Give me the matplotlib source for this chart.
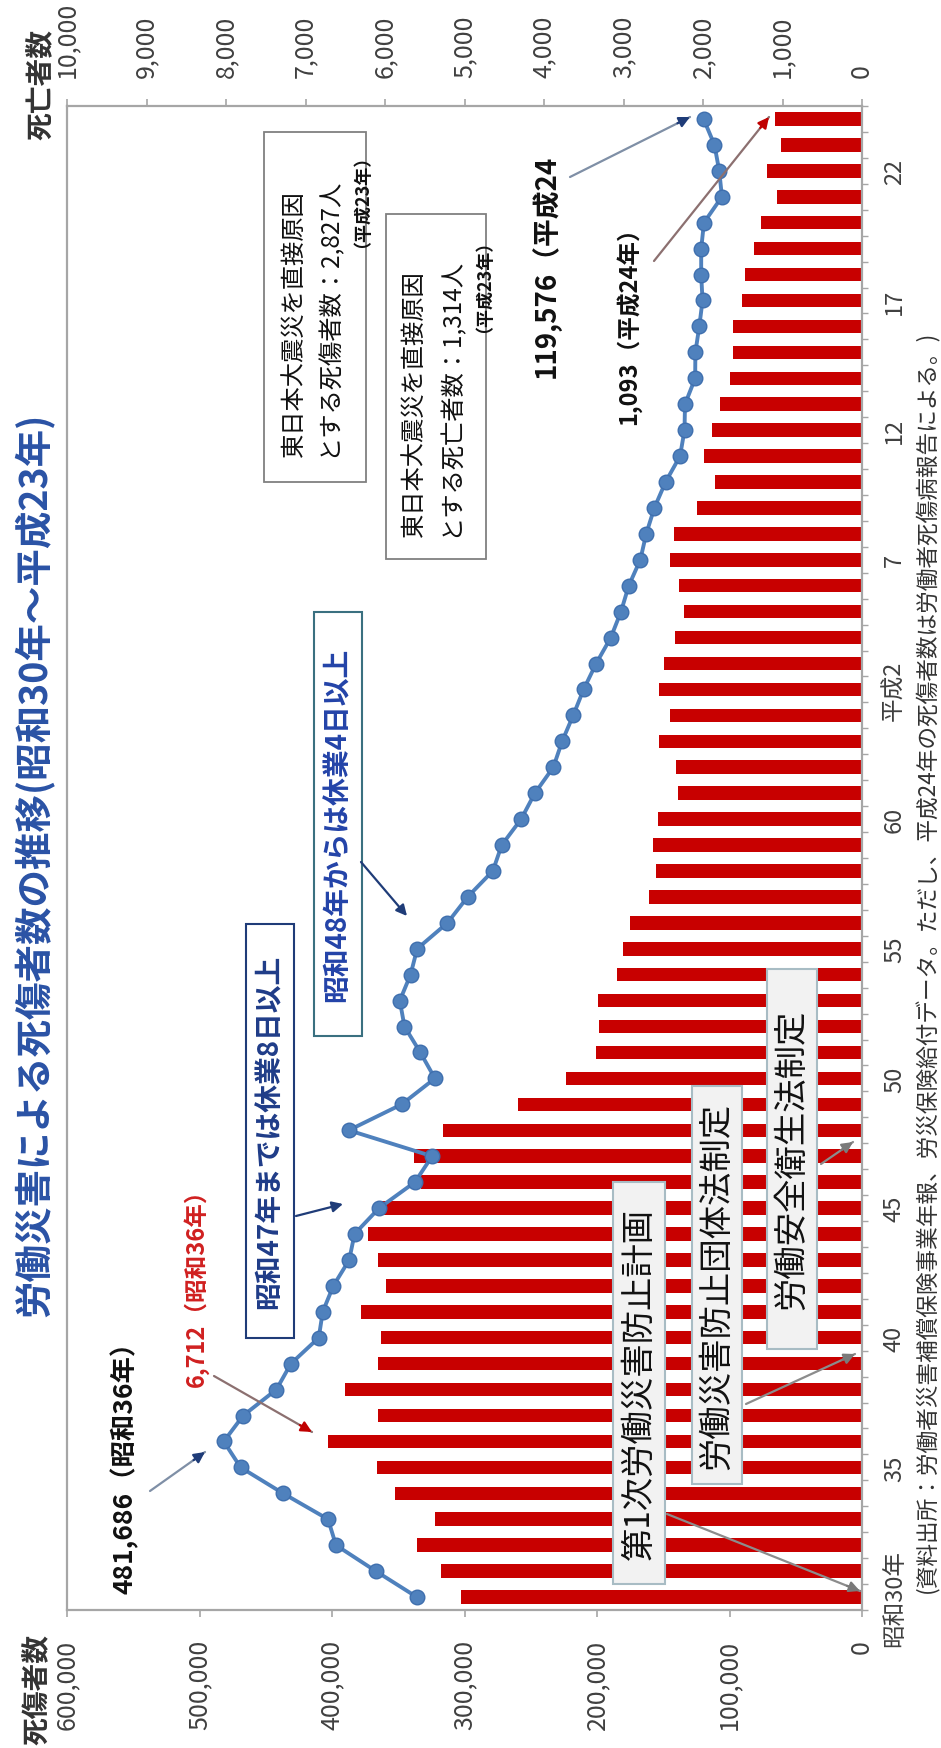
import matplotlib
matplotlib.use("Agg")
import matplotlib.pyplot as plt
import numpy as np
from matplotlib.patches import Rectangle, FancyArrowPatch

plt.rcParams['font.family'] = ['Noto Sans CJK JP', 'DejaVu Sans']

# ---------------- data ----------------
years = list(range(1955, 2013))  # 昭和30年 ... 平成24年
deaths = [5050, 5300, 5600, 5368, 5871, 6095, 6712, 6093, 6506, 6086,
          6046, 6303, 5990, 6088, 6208, 6048, 5552, 5631, 5269, 4330,
          3725, 3345, 3302, 3326, 3077, 3009, 2912, 2674, 2588, 2635,
          2572, 2318, 2342, 2549, 2419, 2550, 2489, 2354, 2245, 2301,
          2414, 2363, 2078, 1844, 1992, 1889, 1790, 1658, 1628, 1620,
          1514, 1472, 1357, 1268, 1075, 1195, 1024, 1093]
cases = [336000, 367000, 397000, 403000, 437000, 469000, 481686, 467000, 442000, 431000,
         410000, 407000, 399000, 387000, 383000, 364444, 337421, 324435, 387342, 347407,
         322322, 333311, 345293, 348826, 340731, 335706, 312844, 297627, 278623, 271884,
         257240, 246891, 232953, 226318, 217964, 210108, 200633, 189589, 181900, 176047,
         167316, 162862, 156726, 148248, 137316, 133948, 133598, 125918, 125750, 122804,
         120354, 121378, 121356, 119291, 105718, 107759, 111349, 119576]
year_label_pos = [0, 5, 10, 15, 20, 25, 30, 35, 40, 45, 50, 55]
year_labels = ['昭和30年', '35', '40', '45', '50', '55', '60', '平成2', '7', '12', '17', '22']
death_ticks = list(range(0, 10001, 1000))
case_ticks = list(range(0, 600001, 100000))

title = '労働災害による死傷者数の推移(昭和30年～平成23年)'
footnote = '(資料出所：労働者災害補償保険事業年報、労災保険給付データ。ただし、平成24年の死傷者数は労働者死傷病報告による。)'

W, H = 941, 1749
fig = plt.figure(figsize=(W / 100, H / 100), dpi=100)
fig.patch.set_facecolor('white')


def F(x, y):
    return (x / W, 1 - y / H)


idx = np.arange(len(years))
ax = fig.add_axes([67 / W, 1 - 1611 / H, 795 / W, 1504 / H])
ax.barh(idx, deaths, height=0.52, color='#C80000', zorder=2)
ax.set_xlim(10000, 0)
ax.set_ylim(-0.5, len(years) - 0.5)

ax2 = ax.twiny()
ax2.plot(cases, idx, '-o', color='#4F81BD', lw=2.8, ms=10.5,
         mfc='#4F81BD', mec='#3F6FAE', mew=1, zorder=3)
ax2.set_xlim(600000, 0)

ax.xaxis.tick_top()
ax2.xaxis.tick_bottom()
ax2.xaxis.set_label_position('bottom')

spine_c = '#A6A6A6'
lab_c = '#404040'
ax.set_xticks(death_ticks)
ax.set_xticklabels([f'{v:,}' for v in death_ticks], rotation=90)
ax2.set_xticks(case_ticks)
ax2.set_xticklabels([f'{v:,}' for v in case_ticks], rotation=90)
for a in (ax, ax2):
    a.tick_params(axis='x', direction='out', length=5, width=1.2, color=spine_c,
                  pad=16, labelsize=18, labelcolor=lab_c)

ax.yaxis.tick_right()
ax.set_yticks(year_label_pos)
ax.set_yticklabels(year_labels, rotation=90, va='center')
ax.set_yticks(np.arange(-0.5, len(years), 1), minor=True)
ax.tick_params(axis='y', which='major', length=0, pad=15, labelsize=17, labelcolor=lab_c)
ax.tick_params(axis='y', which='minor', length=4, width=1.0, color=spine_c, direction='out')

for sp in ax.spines.values():
    sp.set_color(spine_c)
    sp.set_linewidth(1.6)
for sp in ax2.spines.values():
    sp.set_visible(False)

# ---------------- titles / axis names ----------------
fig.text(*F(35, 865), title, rotation=90, ha='center', va='center',
         fontsize=27, fontweight='bold', color='#2A52A5')
fig.text(*F(38, 1745), '死傷者数', rotation=90, rotation_mode='anchor',
         ha='left', va='center', fontsize=20, fontweight='bold', color='#333333')
fig.text(*F(42, 140), '死亡者数', rotation=90, rotation_mode='anchor',
         ha='left', va='center', fontsize=20, fontweight='bold', color='#333333')
fig.text(*F(927, 1593), footnote, rotation=90, rotation_mode='anchor',
         ha='left', va='center', fontsize=16.3, color='#333333')

# ---------------- boxes ----------------
def box(x0, x1, y0, y1, fc, ec, lw=1.5):
    r = Rectangle(F(x0, y1), (x1 - x0) / W, (y1 - y0) / H, transform=fig.transFigure,
                  facecolor=fc, edgecolor=ec, lw=lw, zorder=4)
    fig.add_artist(r)


def arrow(p0, p1, color, head=None, lw=1.6, ms=16):
    if head is None:
        fig.add_artist(FancyArrowPatch(F(*p0), F(*p1), transform=fig.transFigure,
                                       arrowstyle='-|>', mutation_scale=ms, color=color,
                                       lw=lw, zorder=6, shrinkA=0, shrinkB=0))
    else:
        fig.add_artist(FancyArrowPatch(F(*p0), F(*p1), transform=fig.transFigure,
                                       arrowstyle='-', color=color, lw=lw, zorder=6,
                                       shrinkA=0, shrinkB=0))
        dx, dy = p1[0] - p0[0], p1[1] - p0[1]
        n = np.hypot(dx, dy)
        q = (p1[0] - dx / n * 14, p1[1] - dy / n * 14)
        fig.add_artist(FancyArrowPatch(F(*q), F(*p1), transform=fig.transFigure,
                                       arrowstyle='-|>', mutation_scale=ms, color=head,
                                       lw=lw, zorder=6, shrinkA=0, shrinkB=0))


def vtext(x, y, s, size, color='#111111', weight='normal', ha='center', zorder=7):
    fig.text(*F(x, y), s, rotation=90, rotation_mode='anchor', ha=ha, va='center',
             fontsize=size, color=color, fontweight=weight, zorder=zorder)


# 休業日数 boxes
box(246, 294, 925, 1339, 'white', '#1F3C78')
vtext(270, 1132, '昭和47年までは休業8日以上', 20, color='#1F3C88', weight='bold')
box(314, 362, 613, 1037, 'white', '#3A7080')
vtext(338, 825, '昭和48年からは休業4日以上', 20, color='#2343A8', weight='bold')
arrow((296, 1217), (343, 1205), '#1F3C78')
arrow((361, 863), (407, 917), '#1F3C78')

# earthquake boxes
box(264, 366, 133, 483, 'white', '#808080', lw=1.3)
vtext(294, 457, '東日本大震災を直接原因', 17.5, ha='left')
vtext(328, 457, 'とする死傷者数：2,827人', 17.5, ha='left')
vtext(353, 137, '（平成23年）', 13, weight='bold', ha='right')
box(386, 486, 215, 560, 'white', '#808080', lw=1.3)
vtext(414, 537, '東日本大震災を直接原因', 17.5, ha='left')
vtext(450, 537, 'とする死亡者数：1,314人', 17.5, ha='left')
vtext(475, 222, '（平成23年）', 13, weight='bold', ha='right')

# peak / latest values
vtext(125, 1461, '481,686（昭和36年）', 19, weight='bold')
arrow((150, 1492), (205, 1453), '#7F8FA6', head='#1F3C78')
vtext(196, 1282, '6,712（昭和36年）', 17, color='#D02020', weight='bold')
arrow((214, 1377), (312, 1433), '#8C7070', head='#C00000')
vtext(546, 266, '119,576（平成24', 20, weight='bold')
arrow((570, 178), (690, 118), '#7F8FA6', head='#1F3C78')
vtext(628, 320, '1,093（平成24年）', 17, weight='bold')
arrow((654, 262), (769, 118), '#8C7070', head='#C00000')

# policy boxes
box(613, 665, 1183, 1585, '#F2F2F2', '#A8BCC4')
vtext(639, 1384, '第1次労働災害防止計画', 24)
box(692, 742, 1087, 1485, '#F2F2F2', '#A8BCC4')
vtext(717, 1286, '労働災害防止団体法制定', 24)
box(767, 817, 970, 1350, '#F2F2F2', '#A8BCC4')
vtext(792, 1160, '労働安全衛生法制定', 24)
arrow((667, 1515), (860, 1592), '#8C8C8C', head='#7A7A7A')
arrow((746, 1405), (855, 1355), '#8C8C8C', head='#7A7A7A')
arrow((821, 1165), (853, 1143), '#8C8C8C', head='#7A7A7A')

fig.savefig('out.png', dpi=100)
